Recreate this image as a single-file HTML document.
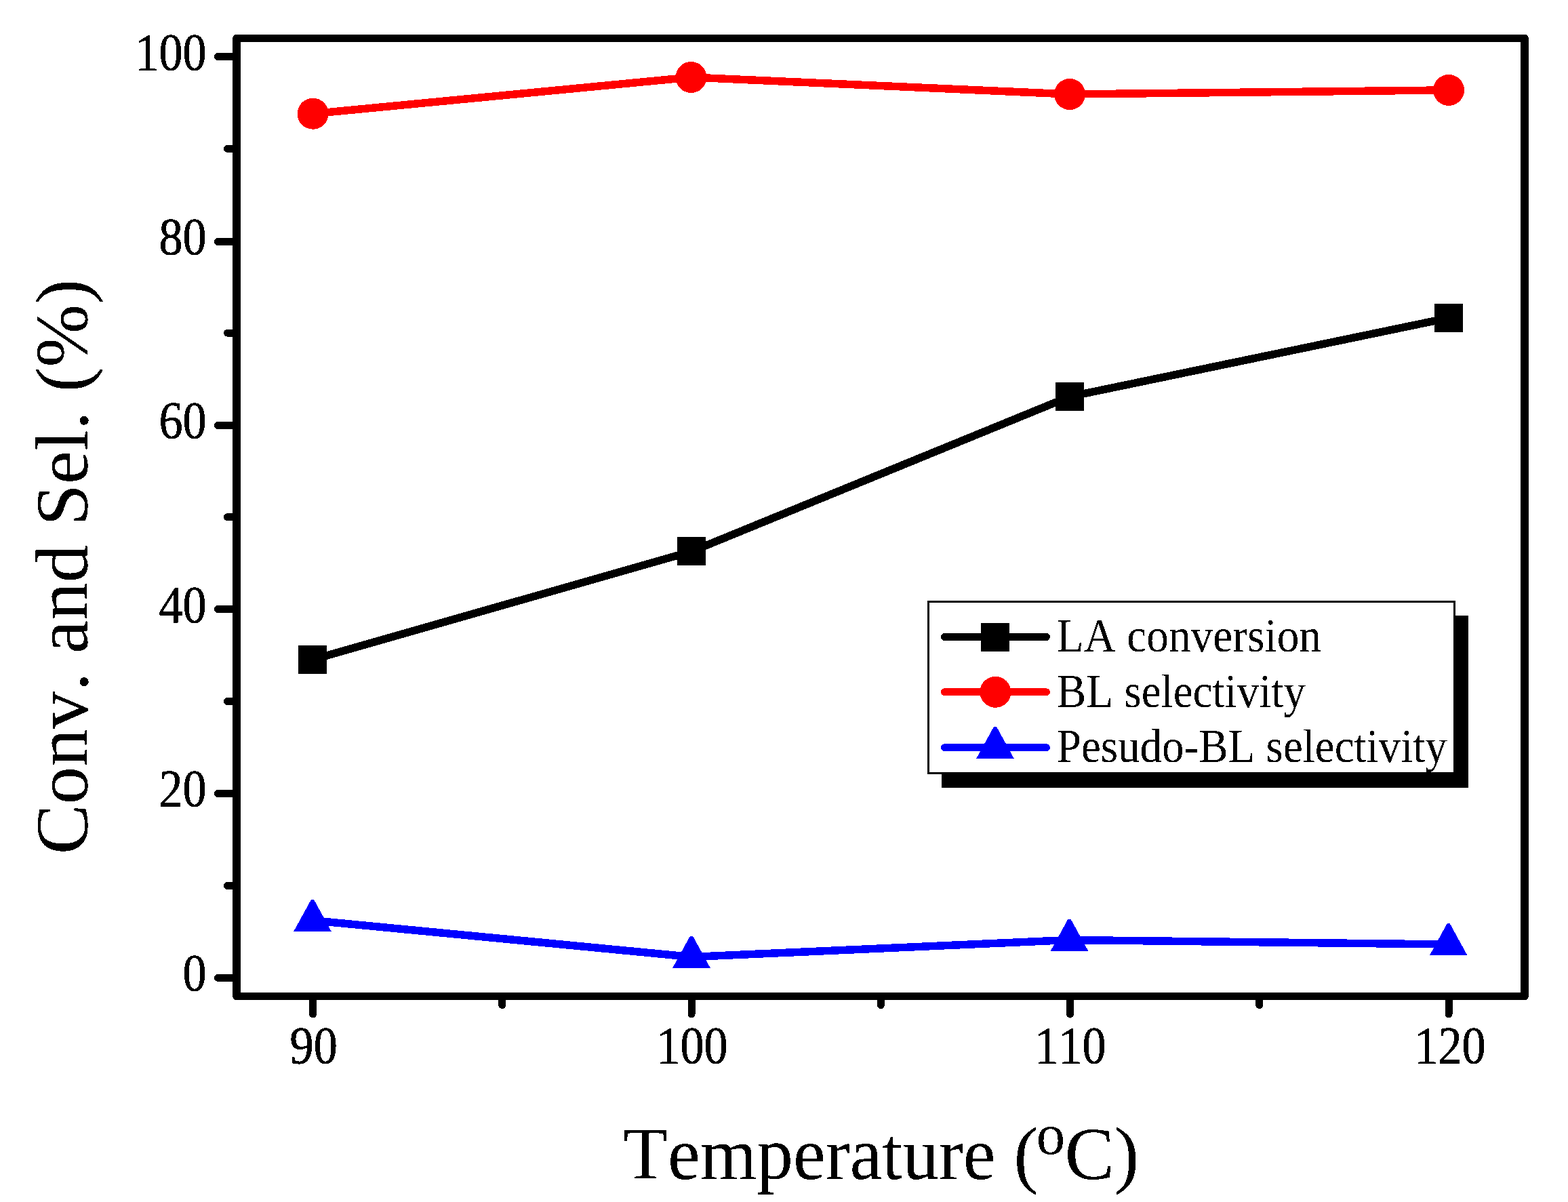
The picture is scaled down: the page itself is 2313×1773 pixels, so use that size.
<!DOCTYPE html>
<html><head><meta charset="utf-8"><title>Conv. and Sel. vs Temperature</title>
<style>html,body{margin:0;padding:0;background:#fff;overflow:hidden}svg{display:block}text{font-family:"Liberation Serif","Times New Roman",serif;fill:#000;font-kerning:none}</style></head><body>
<svg width="2313" height="1773" viewBox="0 0 2313 1773" shape-rendering="crispEdges">
<defs><filter id="cr" x="-5%" y="-5%" width="110%" height="110%" color-interpolation-filters="sRGB"><feComponentTransfer><feFuncA type="discrete" tableValues="0 1"/></feComponentTransfer></filter></defs>
<rect x="0" y="0" width="2313" height="1773" fill="#fff"/>
<polyline points="461.0,973.0 1020.0,813.4 1578.0,585.0 2137.0,469.0" fill="none" stroke="#000" stroke-width="11.5" stroke-linejoin="round" stroke-linecap="round"/>
<polyline points="461.6,167.7 1019.5,114.0 1578.0,139.0 2137.0,132.9" fill="none" stroke="#f00" stroke-width="11.5" stroke-linejoin="round" stroke-linecap="round"/>
<polyline points="461.0,1357.7 1020.0,1411.5 1577.5,1386.5 2136.7,1393.0" fill="none" stroke="#00f" stroke-width="11.5" stroke-linejoin="round" stroke-linecap="round"/>
<rect x="440.0" y="952.0" width="42" height="42" fill="#000"/>
<rect x="999.0" y="792.4" width="42" height="42" fill="#000"/>
<rect x="1557.0" y="564.0" width="42" height="42" fill="#000"/>
<rect x="2116.0" y="448.0" width="42" height="42" fill="#000"/>
<circle cx="461.6" cy="167.7" r="23" fill="#f00"/>
<circle cx="1019.5" cy="114.0" r="23" fill="#f00"/>
<circle cx="1578.0" cy="139.0" r="23" fill="#f00"/>
<circle cx="2137.0" cy="132.9" r="23" fill="#f00"/>
<polygon points="433.3,1373.7 488.7,1373.7 462.9,1326.7 459.1,1326.7" fill="#00f"/>
<polygon points="992.3,1427.5 1047.7,1427.5 1021.9,1380.5 1018.1,1380.5" fill="#00f"/>
<polygon points="1549.8,1402.5 1605.2,1402.5 1579.4,1355.5 1575.6,1355.5" fill="#00f"/>
<polygon points="2109.0,1409.0 2164.4,1409.0 2138.6,1362.0 2134.8,1362.0" fill="#00f"/>
<path d="M349,56.5 H2249 V1469.5 H349 Z" fill="none" stroke="#000" stroke-width="11.5" stroke-linejoin="round"/>
<path d="M321.5,83.4 H349 M321.5,356.4 H349 M321.5,627.5 H349 M321.5,898.4 H349 M321.5,1170.4 H349 M321.5,1442.3 H349 M335.5,1306.4 H349 M335.5,1034.6 H349 M335.5,762.8 H349 M335.5,491.1 H349 M335.5,219.3 H349 M461.6,1469.5 V1496 M1020.1,1469.5 V1496 M1578.5,1469.5 V1496 M2137.0,1469.5 V1496 M740.8,1469.5 V1482.5 M1299.3,1469.5 V1482.5 M1857.8,1469.5 V1482.5" fill="none" stroke="#000" stroke-width="11" stroke-linecap="round"/>
<g filter="url(#cr)">
<text transform="translate(304.7,103.2) scale(0.9,1)" text-anchor="end" font-size="78.0" stroke="#000" stroke-width="0.7">100</text>
<text transform="translate(304.7,375.4) scale(0.9,1)" text-anchor="end" font-size="78.0" stroke="#000" stroke-width="0.7">80</text>
<text transform="translate(304.7,646.2) scale(0.9,1)" text-anchor="end" font-size="78.0" stroke="#000" stroke-width="0.7">60</text>
<text transform="translate(304.7,918.3) scale(0.9,1)" text-anchor="end" font-size="78.0" stroke="#000" stroke-width="0.7">40</text>
<text transform="translate(304.7,1189.3) scale(0.9,1)" text-anchor="end" font-size="78.0" stroke="#000" stroke-width="0.7">20</text>
<text transform="translate(304.7,1461.2) scale(0.9,1)" text-anchor="end" font-size="78.0" stroke="#000" stroke-width="0.7">0</text>
<text transform="translate(497.8,1568.3) scale(0.9,1)" text-anchor="end" font-size="78.0" stroke="#000" stroke-width="0.7">90</text>
<text transform="translate(1073.7,1568.3) scale(0.9,1)" text-anchor="end" font-size="78.0" stroke="#000" stroke-width="0.7">100</text>
<text transform="translate(1631.7,1568.3) scale(0.9,1)" text-anchor="end" font-size="78.0" stroke="#000" stroke-width="0.7">110</text>
<text transform="translate(2191.7,1568.3) scale(0.9,1)" text-anchor="end" font-size="78.0" stroke="#000" stroke-width="0.7">120</text>
<text transform="translate(128.6,1260.4) rotate(-90) scale(1.0054,1)" font-size="110.5">Conv. and Sel. (%)</text>
<text transform="translate(919.25,1739) scale(0.9733,1)" font-size="110.5">Temperature (</text>
<text transform="translate(1528.7,1702.1)" font-size="85">o</text>
<text transform="translate(1570.4,1739) scale(0.994,1)" font-size="110.5">C)</text>
</g>
<rect x="1389" y="908" width="777" height="254" fill="#000"/>
<rect x="1369.5" y="887.5" width="775.5" height="253" fill="#fff" stroke="#000" stroke-width="3"/>
<path d="M1393.5,939.5 H1543.4" stroke="#000" stroke-width="11" stroke-linecap="round"/>
<rect x="1447.0" y="918.5" width="42" height="42" fill="#000"/>
<text filter="url(#cr)" transform="translate(1558.8,961.2) scale(0.9446,1)" font-size="69.2">LA conversion</text>
<path d="M1393.5,1020.8 H1543.4" stroke="#f00" stroke-width="11" stroke-linecap="round"/>
<circle cx="1468.4" cy="1020.8" r="23" fill="#f00"/>
<text filter="url(#cr)" transform="translate(1558.8,1042.5) scale(0.9414,1)" font-size="69.2">BL selectivity</text>
<path d="M1393.5,1102.7 H1543.4" stroke="#00f" stroke-width="11" stroke-linecap="round"/>
<polygon points="1440.3,1118.7 1495.7,1118.7 1469.9,1071.7 1466.1,1071.7" fill="#00f"/>
<text filter="url(#cr)" transform="translate(1558.8,1124.4) scale(0.9397,1)" font-size="69.2">Pesudo-BL selectivity</text>
</svg></body></html>
